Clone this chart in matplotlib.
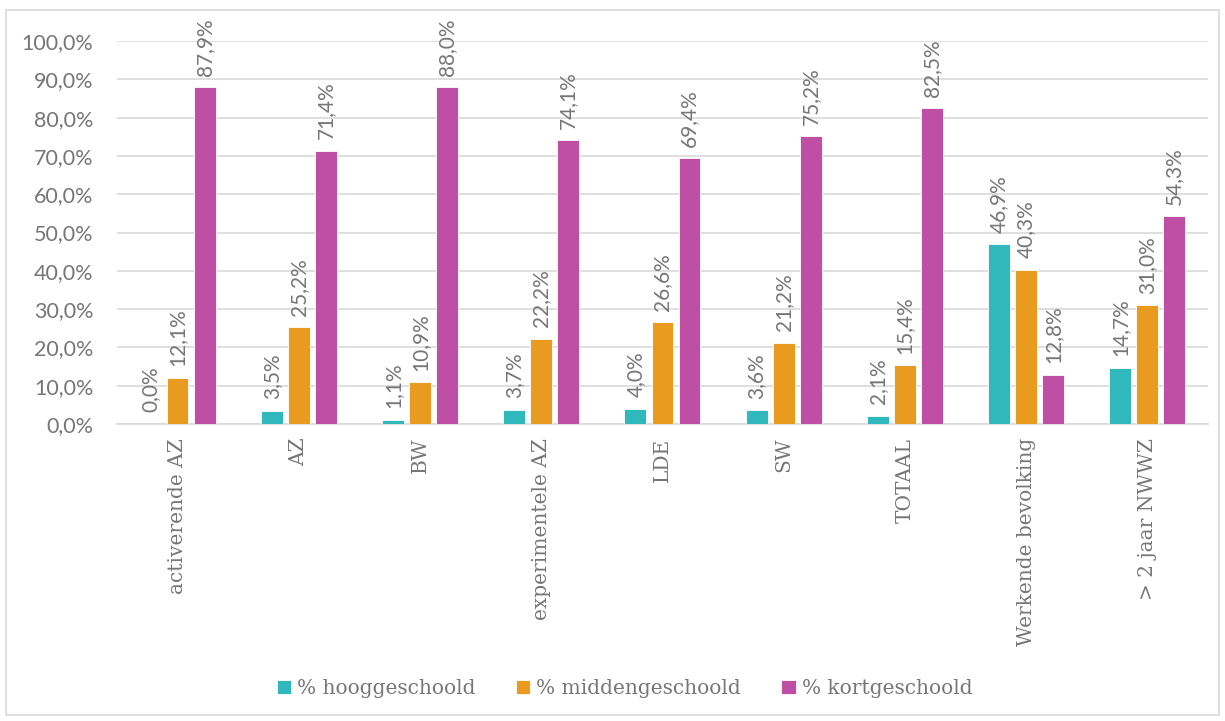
import matplotlib.pyplot as plt
import matplotlib.patches as patches
import numpy as np

categories = ['activerende AZ', 'AZ', 'BW', 'experimentele AZ', 'LDE', 'SW',
              'TOTAAL', 'Werkende bevolking', '> 2 jaar NWWZ']
hoog = [0.0, 3.5, 1.1, 3.7, 4.0, 3.6, 2.1, 46.9, 14.7]
midden = [12.1, 25.2, 10.9, 22.2, 26.6, 21.2, 15.4, 40.3, 31.0]
kort = [87.9, 71.4, 88.0, 74.1, 69.4, 75.2, 82.5, 12.8, 54.3]
series_names = ['% hooggeschoold', '% middengeschoold', '% kortgeschoold']
colors = ['#31B8BD', '#E89B1F', '#BE4FA5']

grey = '#767676'
num_font = 'Lato'
cat_font = 'DejaVu Serif'

fig = plt.figure(figsize=(12.25, 7.21), dpi=100)
ax = fig.add_axes([0.0955, 0.412, 0.8905, 0.531])

# light frame round the whole chart
fig.patches.append(patches.Rectangle((0.005, 0.008), 0.99, 0.978, transform=fig.transFigure,
                                     fill=False, edgecolor='#d9d9d9', linewidth=1.2))

x = np.arange(len(categories))
w = 0.18
step = 0.223
for i, (vals, name, col) in enumerate(zip([hoog, midden, kort], series_names, colors)):
    pos = x + (i - 1) * step
    ax.bar(pos, np.array(vals) / 100, width=w, color=col, edgecolor='white',
           linewidth=0.6, label=name, zorder=3)
    for p, v in zip(pos, vals):
        ax.text(p, v / 100 + 0.03, '{:.1f}%'.format(v).replace('.', ','),
                rotation=90, ha='center', va='bottom', fontsize=15,
                family=num_font, color=grey, clip_on=False)

ax.set_xlim(-0.5, len(categories) - 0.5)
ax.set_ylim(0, 1.0)
ax.set_yticks(np.arange(0, 1.01, 0.1))
ax.set_yticklabels(['{:.1f}%'.format(t * 100).replace('.', ',') for t in np.arange(0, 1.01, 0.1)],
                   family=num_font, fontsize=15.5, color=grey)
ax.set_xticks(x)
ax.set_xticklabels(categories, rotation=90, family=cat_font, fontsize=14.5, color=grey)
ax.tick_params(axis='both', length=0)
ax.tick_params(axis='x', pad=10)
ax.tick_params(axis='y', pad=17)

ax.grid(axis='y', color='#d9d9d9', linewidth=1.2, zorder=0)
for s in ['top', 'right', 'left']:
    ax.spines[s].set_visible(False)
ax.spines['bottom'].set_color('#d9d9d9')
ax.spines['bottom'].set_linewidth(1.2)

leg = fig.legend(loc='center', bbox_to_anchor=(0.51, 0.045), ncol=3, frameon=False,
                 handlelength=0.7, handleheight=0.7, handletextpad=0.3, columnspacing=2.0,
                 prop={'family': cat_font, 'size': 14.5})
for t in leg.get_texts():
    t.set_color(grey)

fig.savefig('out.png', dpi=100)
